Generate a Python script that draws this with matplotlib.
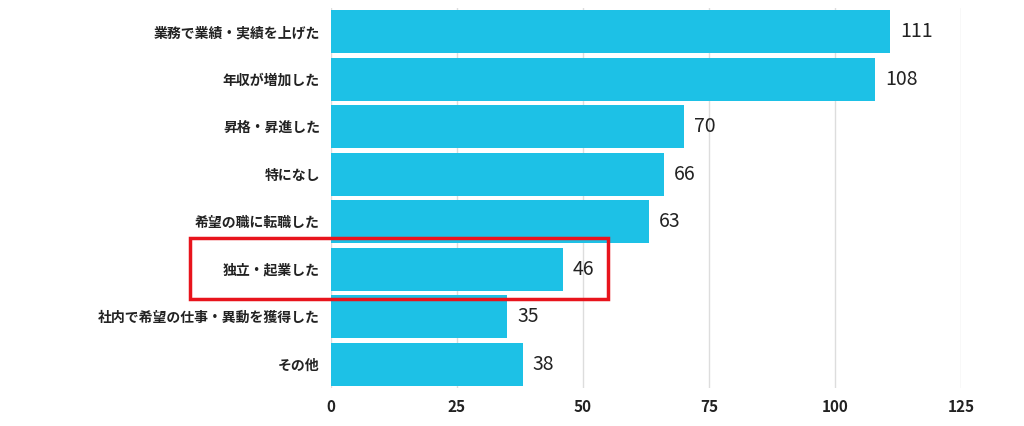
import matplotlib.pyplot as plt
from matplotlib.patches import Rectangle

plt.rcParams['font.family'] = ['Noto Sans CJK JP', 'DejaVu Sans']

categories = ['業務で業績・実績を上げた', '年収が増加した', '昇格・昇進した', '特になし',
              '希望の職に転職した', '独立・起業した', '社内で希望の仕事・異動を獲得した', 'その他']
values = [111, 108, 70, 66, 63, 46, 35, 38]
ticks = [0, 25, 50, 75, 100, 125]

fig = plt.figure(figsize=(10.24, 4.26), dpi=100)
ax = fig.add_axes([331 / 1024, 1 - 388 / 426, 630 / 1024, 380 / 426])

ypos = list(range(len(categories)))
ax.barh(ypos, values, height=0.9, color='#1dc1e6', zorder=2)
for y, v in zip(ypos, values):
    ax.text(v + 2, y, str(v), va='center', ha='left', fontsize=14, color='#222222')

ax.set_ylim(len(categories) - 0.5, -0.5)
ax.set_xlim(0, 125)
ax.set_yticks(ypos)
ax.set_yticklabels(categories, fontsize=10, fontweight='bold', color='#222222')
ax.set_xticks(ticks)
ax.set_xticklabels([str(t) for t in ticks], fontsize=11, fontweight='bold', color='#222222')
ax.tick_params(length=0, pad=8)
ax.grid(axis='x', color='#dddddd', linewidth=1, zorder=0)
for s in ax.spines.values():
    s.set_visible(False)

# highlight box around 独立・起業した
fig.patches.append(Rectangle((190 / 1024, 1 - 299 / 426), 418 / 1024, 61 / 426,
                             transform=fig.transFigure, fill=False,
                             edgecolor='#e8141c', linewidth=2.5, zorder=5))

fig.savefig('out.png', dpi=100)
